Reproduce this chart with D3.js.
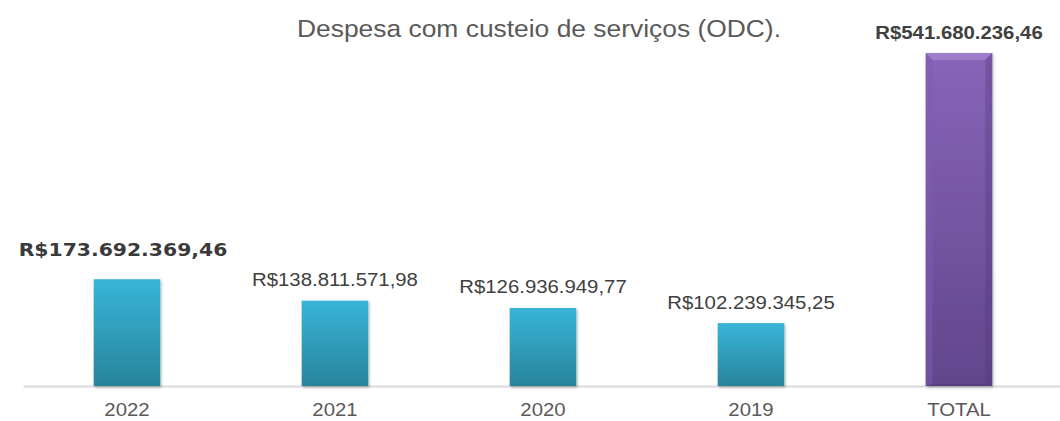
<!DOCTYPE html>
<html>
<head>
<meta charset="utf-8">
<script src="https://cdn.jsdelivr.net/npm/d3@7"></script>
<style>
  body { margin: 0; background: #fff; }
  svg { display: block; font-family: "Liberation Sans", Arial, sans-serif; }
</style>
</head>
<body>
<div id="chart"></div>
<script>
// chart data
var categories = ["2022", "2021", "2020", "2019", "TOTAL"];
var values = [173692369.46, 138811571.98, 126936949.77, 102239345.25, 541680236.46];
var title = "Despesa com custeio de serviços (ODC).";

var width = 1060, height = 421;
var margin = { top: 53, right: -3, bottom: 35, left: 23 };
var stretch = 1.1; // text in the picture is a bit wider than tall

var brl = d3.formatLocale({ decimal: ",", thousands: ".", grouping: [3], currency: ["R$", ""] });
var fmt = brl.format("$,.2f");

var svg = d3.select("#chart").append("svg")
    .attr("width", width)
    .attr("height", height);

var defs = svg.append("defs");

// blue gradient
var gBlue = defs.append("linearGradient").attr("id", "blue")
    .attr("x1", 0).attr("y1", 0).attr("x2", 0).attr("y2", 1);
gBlue.append("stop").attr("offset", "0%").attr("stop-color", "#38b4d7");
gBlue.append("stop").attr("offset", "100%").attr("stop-color", "#28849c");

// purple gradient
var gPurple = defs.append("linearGradient").attr("id", "purple")
    .attr("x1", 0).attr("y1", 0).attr("x2", 0).attr("y2", 1);
gPurple.append("stop").attr("offset", "0%").attr("stop-color", "#8964b8");
gPurple.append("stop").attr("offset", "100%").attr("stop-color", "#61468c");

var shadow = defs.append("filter").attr("id", "shadow")
    .attr("x", "-20%").attr("y", "-5%").attr("width", "140%").attr("height", "115%");
shadow.append("feDropShadow").attr("dx", 1).attr("dy", 1.5)
    .attr("stdDeviation", 1.5).attr("flood-color", "#000").attr("flood-opacity", 0.3);

var x_scale = d3.scaleBand()
    .domain(categories)
    .range([margin.left, width - margin.right])
    .paddingInner(0.68)
    .paddingOuter(0.34);

var y_scale = d3.scaleLinear()
    .domain([0, d3.max(values)])
    .range([height - margin.bottom, margin.top]);

var data = categories.map(function(c, i) {
    return { cat: c, value: values[i], total: c === "TOTAL" };
});

// title
svg.append("text")
    .attr("transform", "translate(539,37) scale(" + stretch + ",1)")
    .attr("text-anchor", "middle")
    .style("font-size", "24px")
    .style("fill", "#595959")
    .text(title);

// x axis
var axis = svg.append("g")
    .attr("transform", "translate(0," + y_scale(0) + ")")
    .call(d3.axisBottom(x_scale).tickSize(0).tickPadding(16.6));

axis.select(".domain")
    .attr("stroke", "#d9d9d9")
    .attr("stroke-width", 2);

axis.selectAll("text")
    .attr("transform", "scale(" + stretch + ",1)")
    .style("font-family", "'Liberation Sans', Arial, sans-serif")
    .style("font-size", "18.5px")
    .style("fill", "#595959");

// bars
var bars = svg.selectAll(".bar")
    .data(data)
    .enter().append("g")
    .attr("class", "bar");

bars.append("rect")
    .attr("x", function(d) { return x_scale(d.cat); })
    .attr("y", function(d) { return y_scale(d.value); })
    .attr("width", x_scale.bandwidth())
    .attr("height", function(d) { return y_scale(0) - y_scale(d.value); })
    .attr("filter", "url(#shadow)")
    .style("fill", function(d) { return d.total ? "url(#purple)" : "url(#blue)"; });

// bevel on the total bar
var bev = 7;
bars.filter(function(d) { return d.total; }).each(function(d) {
    var x0 = x_scale(d.cat), x1 = x0 + x_scale.bandwidth();
    var y0 = y_scale(d.value), y1 = y_scale(0);
    var g = d3.select(this);
    g.append("polygon")
        .attr("points", [[x0, y0], [x1, y0], [x1 - bev, y0 + bev], [x0 + bev, y0 + bev]].join(" "))
        .style("fill", "#a486cf").style("opacity", 0.75);
    g.append("polygon")
        .attr("points", [[x0, y0], [x0 + bev, y0 + bev], [x0 + bev, y1 - 2], [x0, y1]].join(" "))
        .style("fill", "#7e5bb3").style("opacity", 0.5);
    g.append("polygon")
        .attr("points", [[x1, y0], [x1 - bev, y0 + bev], [x1 - bev, y1 - 2], [x1, y1]].join(" "))
        .style("fill", "#4d3573").style("opacity", 0.3);
    g.append("polygon")
        .attr("points", [[x0, y1], [x0 + bev, y1 - 2], [x1 - bev, y1 - 2], [x1, y1]].join(" "))
        .style("fill", "#4d3573").style("opacity", 0.4);
});

// value labels
bars.append("text")
    .attr("transform", function(d, i) {
        var cx = x_scale(d.cat) + x_scale.bandwidth() / 2 - (i === 0 ? 4 : 0);
        var gap = i === 0 ? 23 : 14.5;
        return "translate(" + cx + "," + (y_scale(d.value) - gap) + ") scale(" + stretch + ",1)";
    })
    .attr("text-anchor", "middle")
    .style("font-family", function(d, i) {
        return i === 0 ? "'DejaVu Sans', sans-serif" : "'Liberation Sans', Arial, sans-serif";
    })
    .style("font-weight", function(d, i) { return (i === 0 || d.total) ? "bold" : "normal"; })
    .style("font-size", "18.5px")
    .style("fill", function(d, i) { return i === 0 ? "#3a3a3a" : "#404040"; })
    .text(function(d) { return fmt(d.value); });
</script>
</body>
</html>
